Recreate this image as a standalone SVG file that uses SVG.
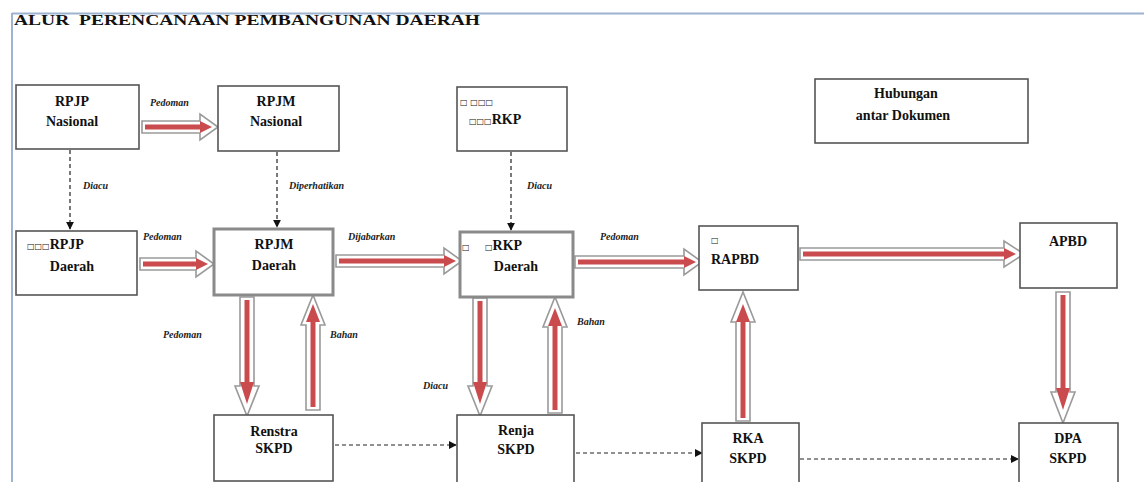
<svg xmlns="http://www.w3.org/2000/svg" width="1144" height="482" viewBox="0 0 1144 482">
<style>
.node rect{fill:#fff;stroke:#555;stroke-width:1.6}
.node.thick rect{stroke:#8a8a8a;stroke-width:3}
.t{font-family:"Liberation Serif","Times New Roman",serif;font-weight:bold;font-size:14px;fill:#111}
.c{text-anchor:middle}
.sq{font-family:"DejaVu Sans",sans-serif;font-size:8px;font-weight:bold}
.lbl{font-family:"Liberation Serif","Times New Roman",serif;font-style:italic;font-weight:bold;font-size:10px;fill:#222}
.blk{fill:#fff;stroke:#9a9a9a;stroke-width:1.6}
.red{stroke:#c94b4d;stroke-width:5;fill:none}
.redh{fill:#c94b4d}
.dash{stroke:#222;stroke-width:1.2;stroke-dasharray:4 3;fill:none;marker-end:url(#ah)}
</style>
<defs>
<marker id="ah" viewBox="0 0 10 10" refX="9" refY="5" markerWidth="8" markerHeight="8" markerUnits="userSpaceOnUse" orient="auto">
<path d="M0,0 L10,5 L0,10 z" fill="#111"/>
</marker>
</defs>
<rect width="1144" height="482" fill="#fff"/>
<g id="frame">
<line x1="12" y1="13.5" x2="1144" y2="13.5" stroke="#9db3cf" stroke-width="2"/>
<line x1="12" y1="13" x2="12" y2="482" stroke="#9db3cf" stroke-width="2"/>
</g>
<text class="t" x="14" y="25" font-size="13" style="white-space:pre" textLength="466" lengthAdjust="spacingAndGlyphs">ALUR  PERENCANAAN PEMBANGUNAN DAERAH</text>

<g id="connectors">
<line class="dash" x1="70" y1="150" x2="70" y2="229"/>
<line class="dash" x1="277" y1="152" x2="277" y2="227"/>
<line class="dash" x1="511" y1="152" x2="511" y2="230"/>
<line class="dash" x1="335" y1="445" x2="456" y2="445"/>
<line class="dash" x1="576" y1="453" x2="702" y2="453"/>
<line class="dash" x1="800" y1="459" x2="1018" y2="459"/>
<polygon class="blk" points="142,121 200,121 200,114 218,127 200,140 200,133 142,133"/>
<line class="red" x1="145" y1="127" x2="202" y2="127"/><polygon class="redh" points="200,121 212,127 200,133"/>
<polygon class="blk" points="140,258 196,258 196,251 214,264 196,277 196,270 140,270"/>
<line class="red" x1="143" y1="264" x2="198" y2="264"/><polygon class="redh" points="196,258 208,264 196,270"/>
<polygon class="blk" points="336,255 444,255 444,248 462,261 444,274 444,267 336,267"/>
<line class="red" x1="339" y1="261" x2="446" y2="261"/><polygon class="redh" points="444,255 456,261 444,267"/>
<polygon class="blk" points="575,256 684,256 684,249 702,262 684,275 684,268 575,268"/>
<line class="red" x1="578" y1="262" x2="686" y2="262"/><polygon class="redh" points="684,256 696,262 684,268"/>
<polygon class="blk" points="800,248 1004,248 1004,241 1024,254 1004,267 1004,260 800,260"/>
<line class="red" x1="803" y1="254" x2="1006" y2="254"/><polygon class="redh" points="1004,248 1016,254 1004,260"/>
<polygon class="blk" points="240,297 254,297 254,386 259,386 247,416 235,386 240,386"/>
<line class="red" x1="247" y1="300" x2="247" y2="384"/><polygon class="redh" points="240,382 247,404 254,382"/>
<polygon class="blk" points="473,298 487,298 487,386 492,386 480,416 468,386 473,386"/>
<line class="red" x1="480" y1="301" x2="480" y2="384"/><polygon class="redh" points="473,382 480,404 487,382"/>
<polygon class="blk" points="1056,292 1070,292 1070,392 1075,392 1063,423 1051,392 1056,392"/>
<line class="red" x1="1063" y1="295" x2="1063" y2="390"/><polygon class="redh" points="1056,388 1063,410 1070,388"/>
<polygon class="blk" points="306,410 320,410 320,325 325,325 313,295 301,325 306,325"/>
<line class="red" x1="313" y1="407" x2="313" y2="320"/><polygon class="redh" points="306,322 313,304 320,322"/>
<polygon class="blk" points="548,413 562,413 562,327 567,327 555,297 543,327 548,327"/>
<line class="red" x1="555" y1="410" x2="555" y2="324"/><polygon class="redh" points="548,326 555,308 562,326"/>
<polygon class="blk" points="736,421 750,421 750,322 755,322 743,292 731,322 736,322"/>
<line class="red" x1="743" y1="418" x2="743" y2="320"/><polygon class="redh" points="736,322 743,304 750,322"/>
<text class="lbl" x="150" y="106">Pedoman</text>
<text class="lbl" x="83" y="189">Diacu</text>
<text class="lbl" x="289" y="189">Diperhatikan</text>
<text class="lbl" x="143" y="240">Pedoman</text>
<text class="lbl" x="348" y="240">Dijabarkan</text>
<text class="lbl" x="527" y="189">Diacu</text>
<text class="lbl" x="600" y="240">Pedoman</text>
<text class="lbl" x="163" y="338">Pedoman</text>
<text class="lbl" x="330" y="338">Bahan</text>
<text class="lbl" x="423" y="389">Diacu</text>
<text class="lbl" x="577" y="325">Bahan</text>
</g>

<g id="rpjp-nasional" class="node"><rect x="16" y="85" width="123" height="64"/>
<text class="t c" x="72" y="106">RPJP</text><text class="t c" x="72" y="126">Nasional</text></g>
<g id="rpjm-nasional" class="node"><rect x="218" y="86" width="121" height="65"/>
<text class="t c" x="276" y="106">RPJM</text><text class="t c" x="276" y="126">Nasional</text></g>
<g id="rkp" class="node"><rect x="457" y="87" width="110" height="64"/>
<text class="t" x="460" y="105"><tspan class="sq">□ □□□</tspan></text>
<text class="t" x="469" y="124"><tspan class="sq">□□□</tspan>RKP</text></g>
<g id="hubungan" class="node"><rect x="815" y="79" width="213" height="64"/>
<text class="t c" x="906" y="98">Hubungan</text><text class="t c" x="903" y="120">antar Dokumen</text></g>
<g id="rpjp-daerah" class="node"><rect x="16" y="231" width="121" height="64"/>
<text class="t" x="27" y="249"><tspan class="sq">□□□</tspan>RPJP</text><text class="t c" x="72" y="271">Daerah</text></g>
<g id="rpjm-daerah" class="node thick"><rect x="214" y="229" width="119" height="66"/>
<text class="t c" x="274" y="249">RPJM</text><text class="t c" x="274" y="270">Daerah</text></g>
<g id="rkp-daerah" class="node thick"><rect x="460" y="232" width="113" height="65"/>
<text class="t" x="462" y="250"><tspan class="sq">□</tspan></text>
<text class="t" x="485" y="250"><tspan class="sq">□</tspan>RKP</text><text class="t c" x="516" y="271">Daerah</text></g>
<g id="rapbd" class="node"><rect x="699" y="226" width="99" height="64"/>
<text class="t" x="711" y="243"><tspan class="sq">□</tspan></text><text class="t" x="711" y="264">RAPBD</text></g>
<g id="apbd" class="node"><rect x="1020" y="223" width="97" height="65"/>
<text class="t c" x="1068" y="246">APBD</text></g>
<g id="renstra-skpd" class="node"><rect x="214" y="415" width="119" height="66"/>
<text class="t c" x="274" y="436">Renstra</text><text class="t c" x="274" y="453">SKPD</text></g>
<g id="renja-skpd" class="node"><rect x="457" y="415" width="117" height="70"/>
<text class="t c" x="516" y="435">Renja</text><text class="t c" x="516" y="454">SKPD</text></g>
<g id="rka-skpd" class="node"><rect x="702" y="423" width="97" height="62"/>
<text class="t c" x="748" y="443">RKA</text><text class="t c" x="748" y="463">SKPD</text></g>
<g id="dpa-skpd" class="node"><rect x="1019" y="423" width="99" height="62"/>
<text class="t c" x="1068" y="443">DPA</text><text class="t c" x="1068" y="463">SKPD</text></g>
</svg>
